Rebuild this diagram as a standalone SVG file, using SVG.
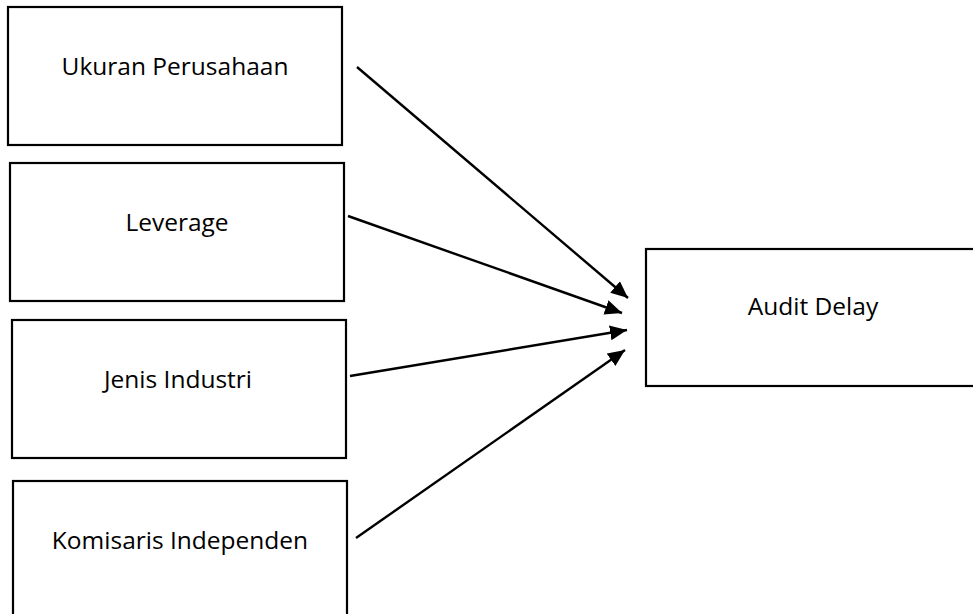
<svg xmlns="http://www.w3.org/2000/svg" width="973" height="614" viewBox="0 0 973 614">
<style>
.box{fill:#fff;stroke:#000;stroke-width:2.2}
.lbl{font-family:"Open Sans","Liberation Sans",sans-serif;font-size:24.5px;fill:#000;text-anchor:middle}
.con{stroke:#000;stroke-width:2.4;fill:none;marker-end:url(#ah)}
</style>
<defs>
<marker id="ah" markerUnits="userSpaceOnUse" markerWidth="18" markerHeight="16" refX="17" refY="7.5" orient="auto">
<path d="M0,0 L17,7.5 L0,15 z" fill="#000"/>
</marker>
</defs>
<rect width="973" height="614" fill="#fff"/>
<g id="n1"><rect class="box" x="8" y="7" width="334" height="138"/><text class="lbl" x="175" y="75">Ukuran Perusahaan</text></g>
<g id="n2"><rect class="box" x="10" y="163" width="334" height="138"/><text class="lbl" x="177" y="231">Leverage</text></g>
<g id="n3"><rect class="box" x="12" y="320" width="334" height="138"/><text class="lbl" x="178" y="388">Jenis Industri</text></g>
<g id="n4"><rect class="box" x="13" y="481" width="334" height="140"/><text class="lbl" x="180" y="549">Komisaris Independen</text></g>
<g id="n5"><rect class="box" x="646" y="249" width="334" height="137"/><text class="lbl" x="813" y="315">Audit Delay</text></g>
<g id="connectors">
<line class="con" x1="357" y1="67" x2="628" y2="298"/>
<line class="con" x1="348" y1="216" x2="622" y2="313"/>
<line class="con" x1="350" y1="376" x2="627" y2="330"/>
<line class="con" x1="356" y1="538" x2="625" y2="350"/>
</g>
</svg>
